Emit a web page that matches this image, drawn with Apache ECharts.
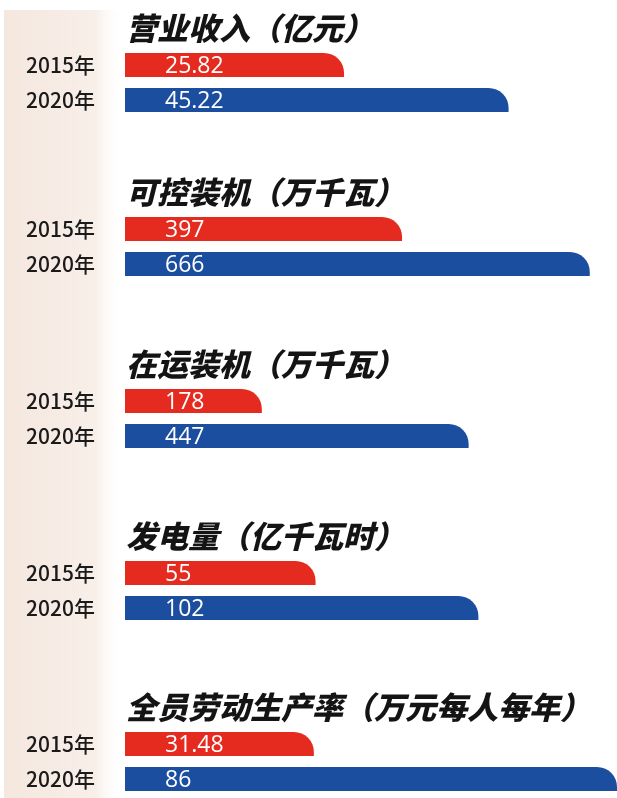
<!DOCTYPE html>
<html>
<head>
<meta charset="utf-8">
<script src="https://cdn.jsdelivr.net/npm/echarts@6/dist/echarts.min.js"></script>
<style>
  html, body { margin: 0; padding: 0; background: #fff; }
  #chart { width: 617px; height: 798px; }
</style>
</head>
<body>
<div id="chart"></div>
<script>
// 数据
const years = ['2015年', '2020年'];
const titles = [
    '营业收入（亿元）',
    '可控装机（万千瓦）',
    '在运装机（万千瓦）',
    '发电量（亿千瓦时）',
    '全员劳动生产率（万元每人每年）'
];
const values2015 = [25.82, 397, 178, 55, 31.48];
const values2020 = [45.22, 666, 447, 102, 86];

// 布局
const gridTops = [47.5, 211.5, 383.5, 555.5, 726.5];
const axisMax = [58, 705, 640, 142, 82];
const RED = '#e52a20';
const BLUE = '#1b4e9f';

let grids = [], xAxes = [], yAxes = [], series = [], graphics = [];

// 左侧浅色底条
graphics.push({
    type: 'rect',
    left: 4, top: 10, z: -10,
    shape: {width: 118, height: 788},
    style: {
        fill: new echarts.graphic.LinearGradient(0, 0, 1, 0, [
            {offset: 0, color: '#f4e7de'},
            {offset: 0.78, color: '#f8efe9'},
            {offset: 1, color: 'rgba(255,255,255,0)'}
        ])
    }
});

titles.forEach(function (t, i) {
    grids.push({left: 125, top: gridTops[i], width: 492, height: 70});
    xAxes.push({
        gridIndex: i, type: 'value', min: 0, max: axisMax[i],
        show: false
    });
    yAxes.push({
        gridIndex: i, type: 'category', data: years, inverse: true,
        axisLine: {show: false}, axisTick: {show: false},
        axisLabel: {
            margin: 30, fontSize: 21, color: '#1a1a1a', fontWeight: 500,
            fontFamily: 'Noto Sans CJK SC'
        }
    });
    series.push({
        type: 'bar',
        xAxisIndex: i, yAxisIndex: i,
        barWidth: 24,
        data: [
            {value: values2015[i], itemStyle: {color: RED}},
            {value: values2020[i], itemStyle: {color: BLUE}}
        ],
        itemStyle: {borderRadius: [0, 20, 0, 0]},
        label: {
            show: true, position: 'insideLeft', offset: [35, 1],
            color: '#fff', fontSize: 23, fontFamily: 'Open Sans'
        },
        silent: true
    });
    graphics.push({
        type: 'text',
        left: 126, top: gridTops[i] - 35,
        style: {
            text: t,
            fontSize: 31, fontWeight: 900, fontStyle: 'italic',
            fontFamily: 'Noto Sans CJK SC',
            fill: '#141414'
        }
    });
});

let option = {
    backgroundColor: '#ffffff',
    animation: false,
    graphic: graphics,
    grid: grids,
    xAxis: xAxes,
    yAxis: yAxes,
    series: series
};

var chart = echarts.init(document.getElementById('chart'));
chart.setOption(option);

window.onresize = function () {
    chart.resize();
};
</script>
</body>
</html>
